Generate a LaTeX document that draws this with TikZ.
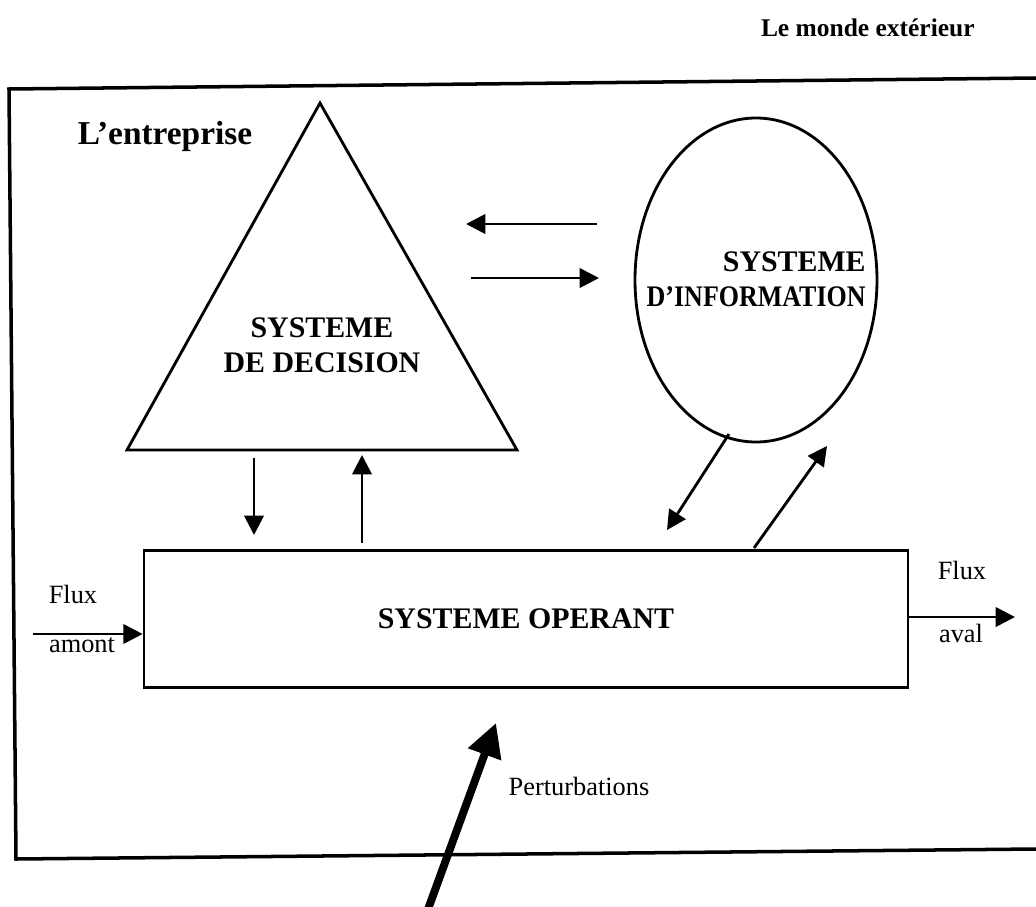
\documentclass[tikz,border=0pt]{standalone}
\usepackage{fontspec}
\setmainfont{Liberation Serif}
\usetikzlibrary{arrows.meta}

\begin{document}
\begin{tikzpicture}[x=0.02cm,y=-0.02cm]
    % Styles for lines, arrows and titles
    \tikzstyle{every node}=[inner sep=0pt]
    \tikzstyle{trait}=[line width=1.6pt]
    \tikzstyle{fleche}=[line width=1.6pt,-{Triangle[length=11pt,width=11pt]}]
    \tikzstyle{titre}=[font=\fontsize{17}{20}\selectfont\bfseries,align=center]
    \tikzstyle{petit}=[font=\fontsize{15}{18}\selectfont]

    % Fix the size of the page
    \useasboundingbox (0,0) rectangle (1036,907);

    % The company, open on the right side
    \draw[line width=2pt] (1036,78) -- (9,89) -- (16,859) -- (1036,849);
    \node[font=\fontsize{14.5}{17}\selectfont\bfseries,anchor=east] (monde) at (975,28) {Le monde extérieur};
    \node[font=\fontsize{19}{22}\selectfont\bfseries] (entreprise) at (165,136) {L'entreprise};

    % Decision system (triangle)
    \draw[trait] (320,103) -- (517,450) -- (127,450) -- cycle;
    \node[titre] (decision) at (322,345) {SYSTEME\\DE DECISION};

    % Information system (circle)
    \draw[trait] (756,280) ellipse (121 and 162);
    \node[titre,align=right,anchor=east] (information) at (866,279)
        {SYSTEME\hspace{8pt}\\\addfontfeature{FakeStretch=0.87}D'INFORMATION};

    % Operating system (box)
    \node[draw,trait,titre,minimum width=15.28cm,minimum height=2.74cm] (operant) at (526,619) {SYSTEME OPERANT};

    % Free ends of the arrows
    \foreach \nom/\x/\y in {ia/597/224, ib/466/224, da/471/278, db/599/278,
                            ha/254/458, hb/254/535, ba/362/543, bb/362/455,
                            ca/729/434, cb/667/530, oa/754/548, ob/827/446,
                            amont/33/634, aval/1015/617, pa/427/912, pb/496/723}
        \coordinate (\nom) at (\x,\y);

    % Arrows between the three systems
    \draw[fleche] (ia) -- (ib);
    \draw[fleche] (da) -- (db);
    \draw[fleche] (ha) -- (hb);
    \draw[fleche] (ba) -- (bb);
    \draw[fleche] (ca) -- (cb);
    \draw[fleche] (oa) -- (ob);

    % Flows in and out
    \draw[fleche] (amont) -- (operant.west |- amont);
    \draw[fleche] (operant.east |- aval) -- (aval);
    \node[petit] (fluxa) at (73,594) {Flux};
    \node[petit] (amontt) at (82,645) {amont};
    \node[petit] (fluxb) at (962,570) {Flux};
    \node[petit] (avalt) at (961,633) {aval};

    % Perturbations
    \draw[line width=4.5pt,-{Triangle[length=19pt,width=19pt]}] (pa) -- (pb);
    \node[petit] (perturbations) at (579,786) {Perturbations};
\end{tikzpicture}
\end{document}
